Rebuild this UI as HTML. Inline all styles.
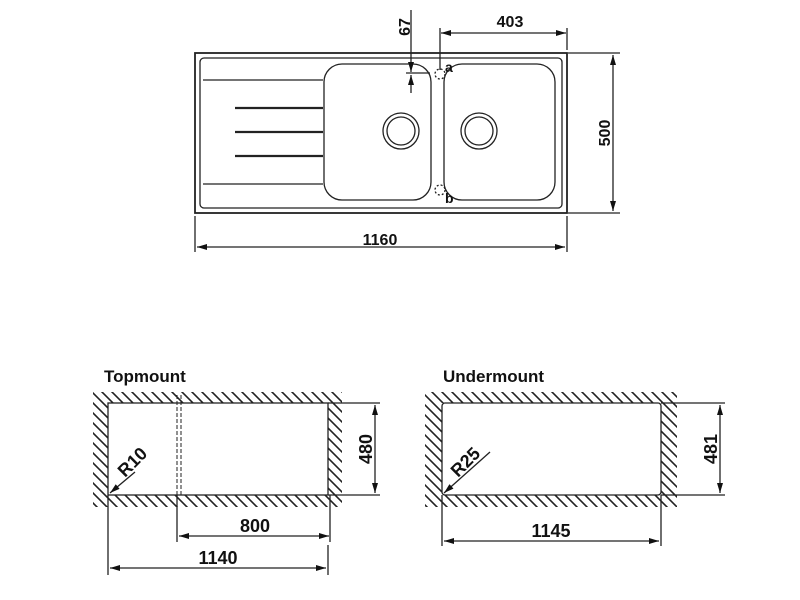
<!DOCTYPE html>
<html><head><style>body{margin:0;background:#fff}svg{display:block}text{font-family:"Liberation Sans",Arial,sans-serif;font-weight:bold;fill:#111}</style></head>
<body>
<svg width="800" height="600" viewBox="0 0 800 600" xmlns="http://www.w3.org/2000/svg">
<defs>
<pattern id="h" width="10" height="10" patternUnits="userSpaceOnUse"><path d="M-1,-1 L11,11 M-11,-1 L1,11 M9,-1 L21,11" stroke="#222" stroke-width="1.6"/></pattern>
<marker id="a" viewBox="0 0 10 6" refX="10" refY="3" markerWidth="11" markerHeight="6" orient="auto-start-reverse" markerUnits="userSpaceOnUse"><path d="M0,0 L10,3 L0,6z" fill="#111"/></marker>
</defs>
<g stroke="#222" fill="none" stroke-width="1.3">
<rect x="195" y="53" width="372" height="160" stroke-width="1.8"/>
<rect x="200" y="58" width="362" height="150" rx="4"/>
<rect x="324" y="64" width="107" height="136" rx="18"/>
<rect x="444" y="64" width="111" height="136" rx="18"/>
<circle cx="401" cy="131" r="18"/><circle cx="401" cy="131" r="14"/>
<circle cx="479" cy="131" r="18"/><circle cx="479" cy="131" r="14"/>
<path d="M203,80 H323 M203,184 H323"/>
<path d="M235,108 H323 M235,132 H323 M235,156 H323" stroke-width="2.2"/>
<circle cx="440" cy="74" r="5" stroke-dasharray="2,2"/>
<circle cx="440" cy="190" r="5" stroke-dasharray="2,2"/>
<path d="M406,73 H430"/>
<path d="M440,70 V28"/>
<path d="M567,50 V28 M568,53 H620 M568,213 H620 M195,216 V252 M567,216 V252"/>
<path d="M441,33 H566" marker-start="url(#a)" marker-end="url(#a)"/>
<path d="M613,55 V211" marker-start="url(#a)" marker-end="url(#a)"/>
<path d="M197,247 H565" marker-start="url(#a)" marker-end="url(#a)"/>
<path d="M411,10 V72" marker-end="url(#a)"/>
<path d="M411,93 V75" marker-end="url(#a)"/>
<path d="M93,392 H342 V507 H93 Z M108,403 V495 H328 V403 Z" fill="url(#h)" stroke="none" fill-rule="evenodd"/>
<rect x="108" y="403" width="220" height="92" fill="#fff"/>
<path d="M177,395 V495 M181,395 V495" stroke-dasharray="4,2" stroke-width="1"/>
<path d="M328,403 H380 M328,495 H380"/>
<path d="M375,405 V493" marker-start="url(#a)" marker-end="url(#a)"/>
<path d="M177,495 V542 M330,495 V542 M108,495 V575 M328,545 V575"/>
<path d="M179,536 H329" marker-start="url(#a)" marker-end="url(#a)"/>
<path d="M110,568 H326" marker-start="url(#a)" marker-end="url(#a)"/>
<path d="M135,472 L110,493" marker-end="url(#a)"/>
<path d="M425,392 H677 V507 H425 Z M442,403 V495 H661 V403 Z" fill="url(#h)" stroke="none" fill-rule="evenodd"/>
<rect x="442" y="403" width="219" height="92" rx="3" fill="#fff"/>
<path d="M661,403 H725 M661,495 H725"/>
<path d="M720,405 V493" marker-start="url(#a)" marker-end="url(#a)"/>
<path d="M442,495 V546 M661,495 V546"/>
<path d="M444,541 H659" marker-start="url(#a)" marker-end="url(#a)"/>
<path d="M490,452 L444,493" marker-end="url(#a)"/>
</g>
<g font-size="16">
<text x="510" y="27" text-anchor="middle">403</text>
<text x="380" y="245" text-anchor="middle">1160</text>
<text transform="translate(410,27) rotate(-90)" text-anchor="middle">67</text>
<text transform="translate(610,133) rotate(-90)" text-anchor="middle">500</text>
<text x="445" y="72" font-size="14">a</text>
<text x="445" y="203" font-size="14">b</text>
<text x="104" y="382" font-size="17">Topmount</text>
<text x="443" y="382" font-size="17">Undermount</text>
<text x="255" y="532" text-anchor="middle" font-size="18">800</text>
<text x="218" y="564" text-anchor="middle" font-size="18">1140</text>
<text x="551" y="537" text-anchor="middle" font-size="18">1145</text>
<text transform="translate(372,449) rotate(-90)" text-anchor="middle" font-size="18">480</text>
<text transform="translate(717,449) rotate(-90)" text-anchor="middle" font-size="18">481</text>
<text transform="translate(125,478) rotate(-45)" font-size="18">R10</text>
<text transform="translate(458,478) rotate(-45)" font-size="18">R25</text>
</g>
</svg>
</body></html>
